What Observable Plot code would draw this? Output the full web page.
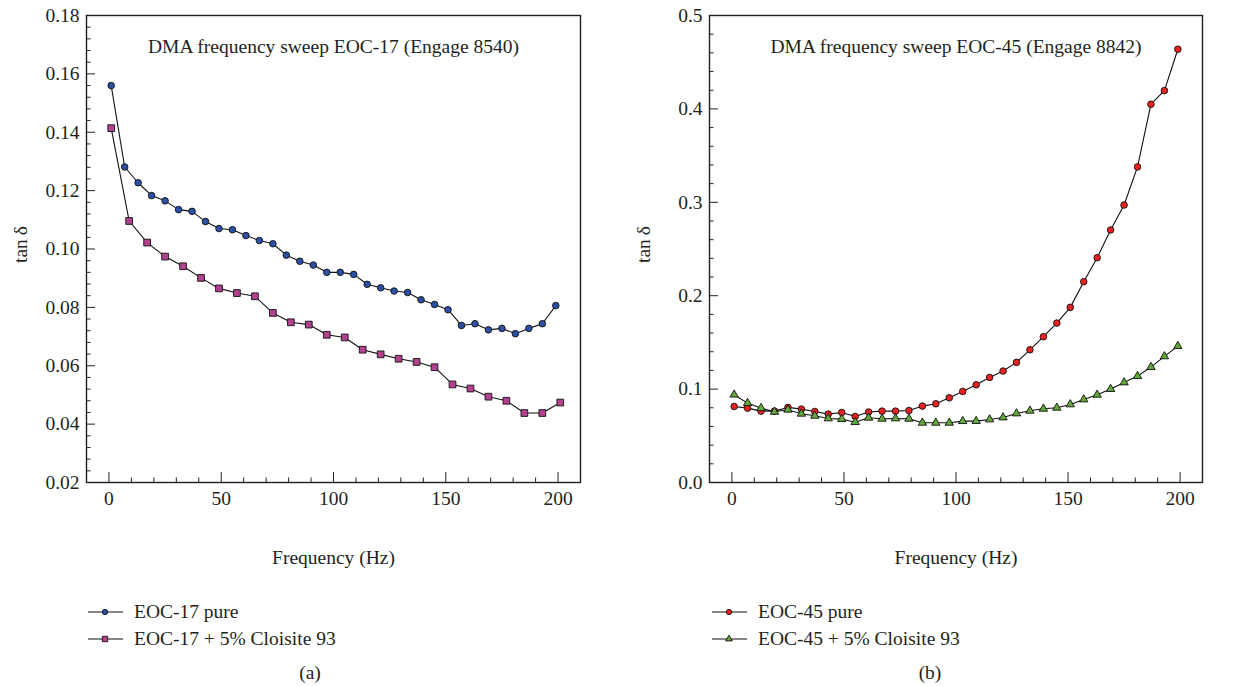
<!DOCTYPE html>
<html><head><meta charset="utf-8">
<script src="https://cdn.jsdelivr.net/npm/d3@7"></script>
<script src="https://cdn.jsdelivr.net/npm/@observablehq/plot@0.6"></script>
<style>
body{margin:0;background:#fff;}
#root{position:relative;width:1240px;height:686px;font-family:"Liberation Serif",serif;color:#231f20;overflow:hidden;}
.panel{position:absolute;top:0;width:620px;}
.legend{position:absolute;font-size:19.5px;}
.row{display:flex;align-items:center;height:27px;white-space:nowrap;}
.row svg{margin-right:10px;}
.cap{position:absolute;top:660px;width:620px;text-align:center;font-size:19.5px;line-height:26px;}
</style>
</head><body><div id="root"></div>
<script>
// ---------- data ----------
const freq17pure = [1,7,13,19,25,31,37,43,49,55,61,67,73,79,85,91,97,103,109,115,121,127,133,139,145,151,157,163,169,175,181,187,193,199];
const tan17pure = [0.156,0.1281,0.1227,0.1183,0.1165,0.1135,0.1129,0.1094,0.107,0.1066,0.1046,0.1029,0.1018,0.0979,0.0958,0.0945,0.092,0.092,0.0913,0.0879,0.0867,0.0856,0.0851,0.0826,0.081,0.0792,0.0738,0.0744,0.0723,0.0728,0.071,0.0728,0.0744,0.0806];
const freq17clay = [1,9,17,25,33,41,49,57,65,73,81,89,97,105,113,121,129,137,145,153,161,169,177,185,193,201];
const tan17clay = [0.1414,0.1096,0.1022,0.0974,0.0941,0.0901,0.0865,0.0849,0.0838,0.0781,0.0749,0.0741,0.0706,0.0697,0.0655,0.0639,0.0624,0.0613,0.0595,0.0536,0.0522,0.0494,0.048,0.0438,0.0438,0.0474];
const freq45 = [1,7,13,19,25,31,37,43,49,55,61,67,73,79,85,91,97,103,109,115,121,127,133,139,145,151,157,163,169,175,181,187,193,199];
const tan45pure = [0.0814,0.0796,0.0764,0.0764,0.0804,0.0786,0.076,0.0732,0.075,0.0707,0.0754,0.0764,0.0764,0.0771,0.0818,0.0843,0.0907,0.0975,0.1046,0.1125,0.1193,0.1286,0.1421,0.1561,0.1707,0.1875,0.215,0.2407,0.2704,0.2971,0.3379,0.405,0.4196,0.4639];
const tan45clay = [0.094,0.085,0.0796,0.0757,0.0779,0.0736,0.0714,0.0686,0.0679,0.0646,0.0693,0.0682,0.0686,0.0682,0.0639,0.0639,0.0639,0.0657,0.0657,0.0675,0.0696,0.0739,0.0768,0.0789,0.08,0.0836,0.0889,0.0939,0.1,0.1071,0.1139,0.1236,0.135,0.146];

const xTicks = [0,50,100,150,200];
const yTicksA = [0.02,0.04,0.06,0.08,0.10,0.12,0.14,0.16,0.18];
const yTicksB = [0.0,0.1,0.2,0.3,0.4,0.5];
const titleA = "DMA frequency sweep EOC-17 (Engage 8540)";
const titleB = "DMA frequency sweep EOC-45 (Engage 8842)";
const xLabel = "Frequency (Hz)";
const yLabel = "tan\u2009δ";
const seriesNamesA = ["EOC-17 pure","EOC-17 + 5% Cloisite 93"];
const seriesNamesB = ["EOC-45 pure","EOC-45 + 5% Cloisite 93"];
const captions = ["(a)","(b)"];

// ---------- styles ----------
const FONT = "19.5px 'Liberation Serif', serif";
const INK = "#231f20";
const sty = {
  circleBlue: {symbol:"circle", fill:"#2b4fa3", r:3.3},
  squarePink: {symbol:"square", fill:"#b2428f", r:3.8},
  circleRed:  {symbol:"circle", fill:"#e8231f", r:3.3},
  triGreen:   {symbol:"triangle", fill:"#62a83a", r:3.1}
};
const legendScale = 0.8;

const rowsOf = (xs, ys) => xs.map((x,i)=>({x, y: ys[i]}));

function panel({ml, mr, yDomain, yTicks, yMinorStep, yFmt, title, series}) {
  const xMinor = d3.range(0, 201, 10).filter(v => !xTicks.includes(v));
  const yMinor = d3.range(yDomain[0], yDomain[1] + 1e-9, yMinorStep)
    .filter(v => !yTicks.some(t => Math.abs(t - v) < 1e-9));
  const marks = [
    Plot.axisX({ticks: xTicks, tickSize: 0, tickPadding: 9, label: null, tickFormat: d => d, stroke: INK, fill: INK}),
    Plot.axisX({ticks: xTicks, tickSize: -10, fill: null, label: null, stroke: INK}),
    Plot.axisX({ticks: xMinor, tickSize: -4.5, fill: null, label: null, stroke: INK}),
    Plot.axisY({ticks: yTicks, tickSize: 0, tickPadding: 7, label: null, tickFormat: yFmt, fill: INK}),
    Plot.axisY({ticks: yTicks, tickSize: -9, fill: null, label: null, stroke: INK}),
    Plot.axisY({ticks: yMinor, tickSize: -4.5, fill: null, label: null, stroke: INK}),
    Plot.frame({stroke: INK, strokeWidth: 1.4})
  ];
  for (const s of series) {
    marks.push(Plot.line(s.data, {x: "x", y: "y", stroke: "#111", strokeWidth: 1.1}));
  }
  for (const s of series) {
    marks.push(Plot.dot(s.data, {x: "x", y: "y", stroke: "#111", strokeWidth: 0.9, ...s.style}));
  }
  marks.push(
    Plot.text([title], {text: d => d, frameAnchor: "top", dy: 24, fill: INK}),
    Plot.text([xLabel], {text: d => d, frameAnchor: "bottom", dy: 81, fill: INK}),
    Plot.text([yLabel], {text: d => d, frameAnchor: "left", dx: -66, dy: 14, rotate: -90, fill: INK})
  );
  return Plot.plot({
    width: 620, height: 580,
    marginLeft: ml, marginRight: mr, marginTop: 15, marginBottom: 98,
    style: {font: FONT, color: INK, background: "white", overflow: "visible"},
    x: {domain: [-10, 210]},
    y: {domain: yDomain},
    marks
  });
}

function swatch(style) {
  const ns = "http://www.w3.org/2000/svg";
  const svg = document.createElementNS(ns, "svg");
  svg.setAttribute("width", 36); svg.setAttribute("height", 14);
  const line = document.createElementNS(ns, "line");
  line.setAttribute("x1", 0); line.setAttribute("x2", 35); line.setAttribute("y1", 7); line.setAttribute("y2", 7);
  line.setAttribute("stroke", "#111"); line.setAttribute("stroke-width", 1.1);
  svg.appendChild(line);
  const p = document.createElementNS(ns, "path");
  const sym = {circle: d3.symbolCircle, square: d3.symbolSquare, triangle: d3.symbolTriangle}[style.symbol];
  const r = style.r * legendScale;
  p.setAttribute("d", d3.symbol(sym, Math.PI * r * r)());
  p.setAttribute("transform", "translate(17,7)");
  p.setAttribute("fill", style.fill); p.setAttribute("stroke", "#111"); p.setAttribute("stroke-width", 0.9);
  svg.appendChild(p);
  return svg;
}

function legend(left, names, styles) {
  const div = document.createElement("div");
  div.className = "legend";
  div.style.left = left + "px"; div.style.top = "598px";
  names.forEach((n, i) => {
    const r = document.createElement("div"); r.className = "row";
    r.appendChild(swatch(styles[i]));
    const t = document.createElement("span"); t.textContent = n;
    r.appendChild(t);
    div.appendChild(r);
  });
  return div;
}

const root = document.getElementById("root");
const pA = document.createElement("div"); pA.className = "panel"; pA.style.left = "0px";
pA.appendChild(panel({
  ml: 86, mr: 40, yDomain: [0.02, 0.18], yTicks: yTicksA, yMinorStep: 0.004, yFmt: d3.format(".2f"),
  title: titleA,
  series: [
    {data: rowsOf(freq17pure, tan17pure), style: sty.circleBlue},
    {data: rowsOf(freq17clay, tan17clay), style: sty.squarePink}
  ]
}));
const pB = document.createElement("div"); pB.className = "panel"; pB.style.left = "620px";
pB.appendChild(panel({
  ml: 89, mr: 38, yDomain: [0, 0.5], yTicks: yTicksB, yMinorStep: 0.02, yFmt: d3.format(".1f"),
  title: titleB,
  series: [
    {data: rowsOf(freq45, tan45pure), style: sty.circleRed},
    {data: rowsOf(freq45, tan45clay), style: sty.triGreen}
  ]
}));
root.appendChild(pA); root.appendChild(pB);
root.appendChild(legend(88, seriesNamesA, [sty.circleBlue, sty.squarePink]));
root.appendChild(legend(712, seriesNamesB, [sty.circleRed, sty.triGreen]));
captions.forEach((c, i) => {
  const d = document.createElement("div"); d.className = "cap";
  d.style.left = (i * 620) + "px"; d.textContent = c; root.appendChild(d);
});
</script></body></html>
